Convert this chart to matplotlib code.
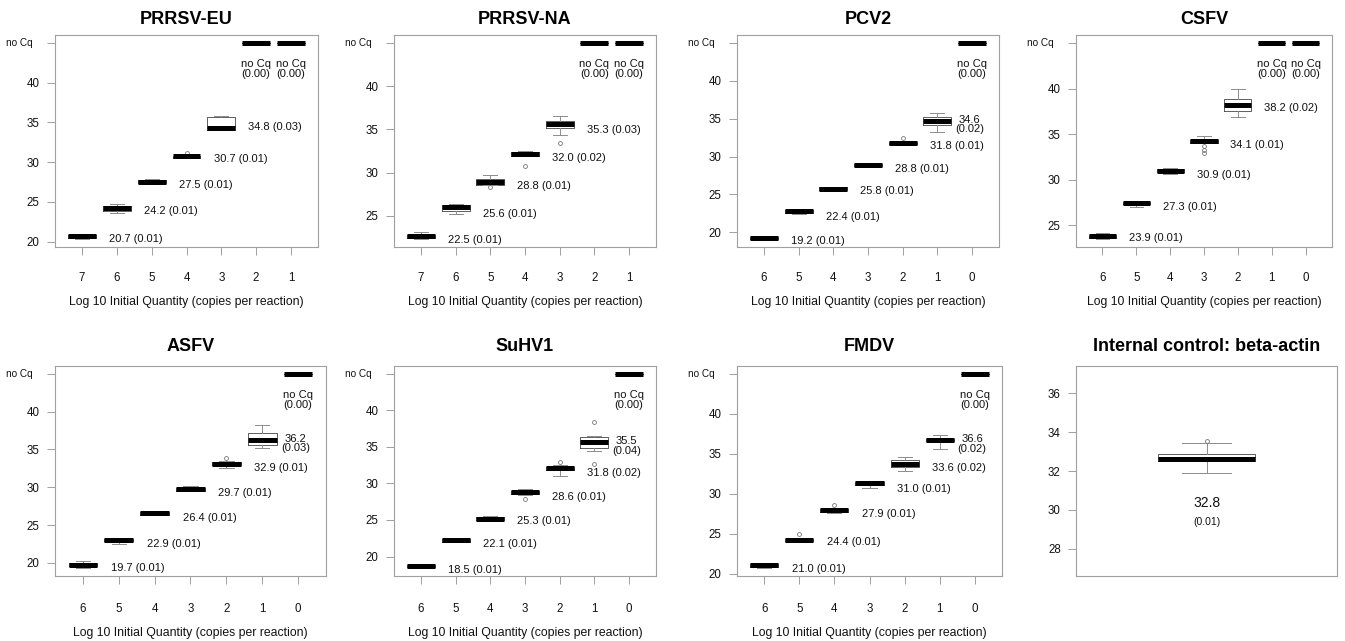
import matplotlib.pyplot as plt

plt.rcParams['font.family'] = ['Liberation Sans', 'DejaVu Sans']

NO_CQ = 45.0
NQ = (NO_CQ, NO_CQ, NO_CQ, NO_CQ, NO_CQ)

# each box: (whisker low, Q1, median, Q3, whisker high)
eu_levels = [7, 6, 5, 4, 3, 2, 1]
eu_stats = [(20.3, 20.5, 20.65, 20.85, 21.0), (23.6, 23.9, 24.25, 24.5, 24.7),
            (27.2, 27.35, 27.5, 27.75, 27.9), (30.5, 30.55, 30.7, 30.8, 30.9),
            (34.0, 34.05, 34.3, 35.7, 35.85), NQ, NQ]
eu_fliers = [[], [], [], [31.2], [], [], []]
eu_mean = [20.7, 24.2, 27.5, 30.7, 34.8, None, None]
eu_cv = [0.01, 0.01, 0.01, 0.01, 0.03, 0.00, 0.00]

na_levels = [7, 6, 5, 4, 3, 2, 1]
na_stats = [(22.3, 22.45, 22.65, 22.8, 23.1), (25.2, 25.6, 26.0, 26.3, 26.4),
            (28.6, 28.6, 28.9, 29.2, 29.7), (31.9, 31.95, 32.2, 32.4, 32.5),
            (34.35, 35.1, 35.6, 35.95, 36.5), NQ, NQ]
na_fliers = [[], [], [28.3], [30.8], [33.4], [], []]
na_mean = [22.5, 25.6, 28.8, 32.0, 35.3, None, None]
na_cv = [0.01, 0.01, 0.01, 0.02, 0.03, 0.00, 0.00]

pcv_levels = [6, 5, 4, 3, 2, 1, 0]
pcv_stats = [(19.1, 19.15, 19.3, 19.4, 19.45), (22.45, 22.5, 22.75, 23.0, 23.05),
             (25.5, 25.6, 25.75, 25.95, 26.0), (28.75, 28.8, 28.9, 29.05, 29.1),
             (31.6, 31.65, 31.8, 31.95, 32.0), (33.3, 34.2, 34.75, 35.2, 35.7), NQ]
pcv_fliers = [[], [], [], [], [32.4], [], []]
pcv_mean = [19.2, 22.4, 25.8, 28.8, 31.8, 34.6, None]
pcv_cv = [0.01, 0.01, 0.01, 0.01, 0.01, 0.02, 0.00]

csfv_levels = [6, 5, 4, 3, 2, 1, 0]
csfv_stats = [(23.5, 23.6, 23.8, 23.9, 24.2), (27.0, 27.3, 27.45, 27.55, 27.6),
              (30.6, 30.8, 31.0, 31.15, 31.3), (34.0, 34.0, 34.25, 34.4, 34.75),
              (36.85, 37.5, 38.2, 38.8, 39.9), NQ, NQ]
csfv_fliers = [[], [], [], [33.7, 33.3, 32.95], [], [], []]
csfv_mean = [23.9, 27.3, 30.9, 34.1, 38.2, None, None]
csfv_cv = [0.01, 0.01, 0.01, 0.01, 0.02, 0.00, 0.00]

asfv_levels = [6, 5, 4, 3, 2, 1, 0]
asfv_stats = [(19.3, 19.6, 19.75, 20.05, 20.3), (22.55, 22.9, 23.05, 23.2, 23.25),
              (26.3, 26.35, 26.55, 26.7, 26.75), (29.45, 29.5, 29.75, 29.95, 30.2),
              (32.5, 32.9, 33.1, 33.35, 33.45), (35.25, 35.6, 36.25, 37.2, 38.25), NQ]
asfv_fliers = [[], [], [], [], [33.9], [], []]
asfv_mean = [19.7, 22.9, 26.4, 29.7, 32.9, 36.2, None]
asfv_cv = [0.01, 0.01, 0.01, 0.01, 0.01, 0.03, 0.00]

suhv_levels = [6, 5, 4, 3, 2, 1, 0]
suhv_stats = [(18.4, 18.5, 18.7, 18.9, 19.0), (21.95, 22.05, 22.3, 22.45, 22.5),
              (25.0, 25.05, 25.2, 25.4, 25.6), (28.4, 28.55, 28.8, 29.0, 29.2),
              (30.95, 31.8, 32.1, 32.3, 32.5), (34.4, 34.85, 35.65, 36.3, 36.5), NQ]
suhv_fliers = [[], [], [], [27.9], [32.9], [38.4, 32.6], []]
suhv_mean = [18.5, 22.1, 25.3, 28.6, 31.8, 35.5, None]
suhv_cv = [0.01, 0.01, 0.01, 0.01, 0.02, 0.04, 0.00]

fmdv_levels = [6, 5, 4, 3, 2, 1, 0]
fmdv_stats = [(20.7, 20.85, 21.05, 21.25, 21.3), (24.1, 24.15, 24.25, 24.4, 24.45),
              (27.6, 27.7, 27.95, 28.1, 28.2), (30.7, 31.1, 31.35, 31.5, 31.6),
              (32.9, 33.4, 33.7, 34.2, 34.6), (35.6, 36.55, 36.75, 36.9, 37.4), NQ]
fmdv_fliers = [[], [24.95], [28.65], [], [], [], []]
fmdv_mean = [21.0, 24.4, 27.9, 31.0, 33.6, 36.6, None]
fmdv_cv = [0.01, 0.01, 0.01, 0.01, 0.02, 0.02, 0.00]

actin_stats = (31.9, 32.5, 32.6, 32.85, 33.45)
actin_fliers = [33.55]
actin_mean = 32.8
actin_cv = 0.01

W, H = 1345, 641
fig = plt.figure(figsize=(W / 100, H / 100), dpi=100)

GRAY = '#a0a0a0'
TXT = '#111111'
box_kw = dict(
    boxprops=dict(color='#444444', lw=0.6),
    whiskerprops=dict(color='#8c8c8c', lw=0.7, ls='-'),
    capprops=dict(color='#8c8c8c', lw=0.7),
    medianprops=dict(color='black', lw=3.6, solid_capstyle='butt'),
    flierprops=dict(marker='o', markersize=2.8, markerfacecolor='none',
                    markeredgecolor='#777777', markeredgewidth=0.6),
)


def px_axes(left, top, right, bottom):
    return fig.add_axes([left / W, 1 - bottom / H, (right - left) / W, (bottom - top) / H])


def style_axes(ax, title, pad):
    for sp in ax.spines.values():
        sp.set_color(GRAY)
        sp.set_linewidth(0.8)
    ax.tick_params(colors=GRAY, length=6, width=0.7, labelcolor=TXT, labelsize=8.3)
    ax.tick_params(axis='y', pad=5)
    ax.set_title(title, fontsize=13, fontweight='bold', pad=pad)


def draw_panel(rect, title, levels, stats, fliers, means, cvs, pad, xpad, lpad):
    ax = px_axes(*rect)
    n = len(levels)
    pos = list(range(1, n + 1))
    bx = [dict(whislo=s[0], q1=s[1], med=s[2], q3=s[3], whishi=s[4], fliers=f)
          for s, f in zip(stats, fliers)]
    ax.bxp(bx, positions=pos, widths=0.8, **box_kw)

    vals = [s[0] for s in stats] + [v for f in fliers for v in f]
    lo, hi = min(vals), max([s[4] for s in stats])
    span = hi - lo
    ax.set_ylim(lo - 0.04 * span, hi + 0.04 * span)
    ax.set_xlim(0.5 - 0.04 * n, n + 0.5 + 0.04 * n)

    yt = [t for t in (20, 25, 30, 35, 40) if t > lo - 0.04 * span]
    ax.set_yticks(yt + [NO_CQ])
    ax.set_yticklabels([str(t) for t in yt] + [''])
    ax.annotate('no Cq', (0, NO_CQ), xycoords=ax.get_yaxis_transform(), xytext=(-22, 0),
                textcoords='offset pixels', ha='right', va='center', fontsize=7.2, color=TXT)
    ax.set_xticks(pos)
    ax.set_xticklabels([str(l) for l in levels])
    style_axes(ax, title, pad)
    ax.tick_params(axis='x', pad=xpad)
    ax.set_xlabel('Log 10 Initial Quantity (copies per reaction)', fontsize=8.8,
                  labelpad=lpad, color=TXT)

    for i in range(n):
        if means[i] is None:
            ax.annotate('no Cq\n(%.2f)' % cvs[i], (pos[i], NO_CQ), xytext=(0, -26),
                        textcoords='offset pixels', ha='center', va='center',
                        fontsize=8, linespacing=0.95, color=TXT)
        elif i >= n - 2:
            ax.annotate('%.1f\n(%.2f)' % (means[i], cvs[i]), (pos[i] + 0.93, means[i]),
                        xytext=(0, -3), textcoords='offset pixels', ha='center', va='center',
                        fontsize=8, linespacing=0.95, color=TXT)
        else:
            ax.annotate('%.1f (%.2f)' % (means[i], cvs[i]), (pos[i] + 0.78, means[i]),
                        xytext=(0, -3), textcoords='offset pixels', ha='left', va='center',
                        fontsize=8, color=TXT)
    return ax


ROW1 = (35, 247)
ROW2 = (366, 576)
r1 = dict(pad=8, xpad=12, lpad=8.3)
r2 = dict(pad=10.5, xpad=13.5, lpad=8.4)
draw_panel((55, ROW1[0], 318, ROW1[1]), 'PRRSV-EU', eu_levels, eu_stats, eu_fliers, eu_mean, eu_cv, **r1)
draw_panel((394, ROW1[0], 656, ROW1[1]), 'PRRSV-NA', na_levels, na_stats, na_fliers, na_mean, na_cv, **r1)
draw_panel((737, ROW1[0], 999, ROW1[1]), 'PCV2', pcv_levels, pcv_stats, pcv_fliers, pcv_mean, pcv_cv, **r1)
draw_panel((1076, ROW1[0], 1332, ROW1[1]), 'CSFV', csfv_levels, csfv_stats, csfv_fliers, csfv_mean, csfv_cv, **r1)
draw_panel((55, ROW2[0], 326, ROW2[1]), 'ASFV', asfv_levels, asfv_stats, asfv_fliers, asfv_mean, asfv_cv, **r2)
draw_panel((394, ROW2[0], 656, ROW2[1]), 'SuHV1', suhv_levels, suhv_stats, suhv_fliers, suhv_mean, suhv_cv, **r2)
draw_panel((737, ROW2[0], 1002, ROW2[1]), 'FMDV', fmdv_levels, fmdv_stats, fmdv_fliers, fmdv_mean, fmdv_cv, **r2)

# internal control panel
ax = px_axes(1076, ROW2[0], 1337, ROW2[1])
s = actin_stats
ax.bxp([dict(whislo=s[0], q1=s[1], med=s[2], q3=s[3], whishi=s[4], fliers=actin_fliers)],
       positions=[1], widths=0.4, **box_kw)
ax.set_ylim(27 - 0.4, 37 + 0.4)
ax.set_xlim(0.46, 1.54)
ax.set_yticks([28, 30, 32, 34, 36])
ax.set_xticks([])
style_axes(ax, 'Internal control: beta-actin', 10.5)
ax.annotate('%.1f' % actin_mean, (1, s[0]), xytext=(0, -30), textcoords='offset pixels',
            ha='center', va='center', fontsize=10, color=TXT)
ax.annotate('(%.2f)' % actin_cv, (1, s[0]), xytext=(0, -49), textcoords='offset pixels',
            ha='center', va='center', fontsize=7.5, color=TXT)

fig.savefig('out.png', dpi=100)
